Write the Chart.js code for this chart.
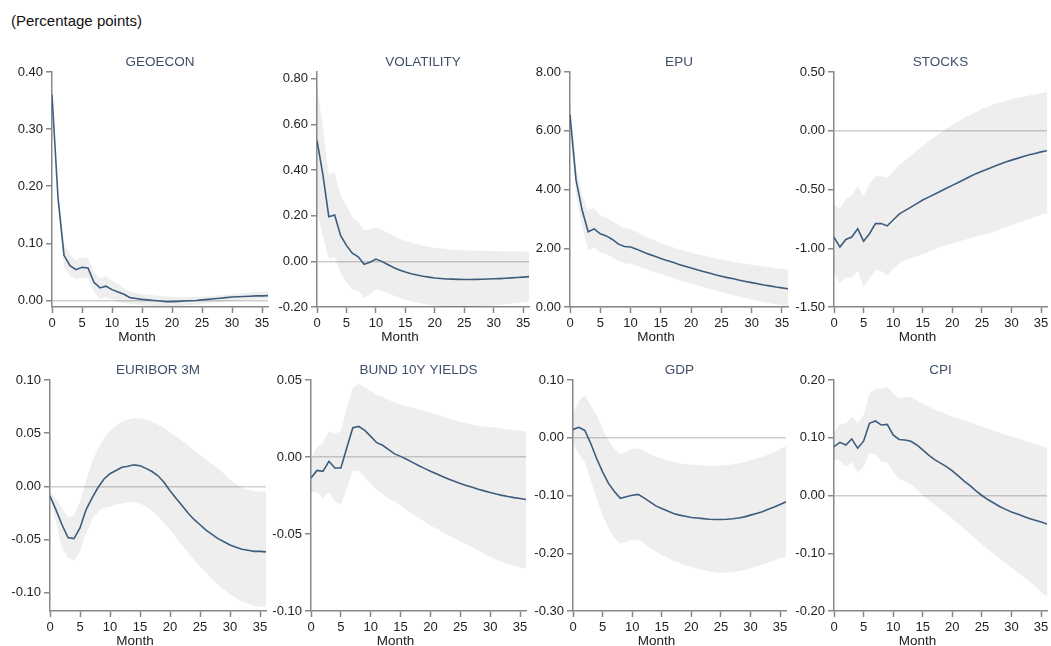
<!DOCTYPE html>
<html>
<head>
<meta charset="utf-8">
<script src="https://cdn.jsdelivr.net/npm/chart.js@4.4.1/dist/chart.umd.min.js"></script>
<style>
  body { margin: 0; background: #fff; width: 1051px; height: 646px; overflow: hidden; position: relative;
         font-family: "Liberation Sans", Arial, sans-serif; }
  #unit { position: absolute; left: 11px; top: 12px; font-size: 15px; color: #111; }
  canvas { position: absolute; }
</style>
</head>
<body>
<div id="unit">(Percentage points)</div>
<canvas id="p0"></canvas><canvas id="p1"></canvas><canvas id="p2"></canvas><canvas id="p3"></canvas>
<canvas id="p4"></canvas><canvas id="p5"></canvas><canvas id="p6"></canvas><canvas id="p7"></canvas>
<script>
// Horizon (months) and x tick labels
const months = [0,1,2,3,4,5,6,7,8,9,10,11,12,13,14,15,16,17,18,19,20,21,22,23,24,25,26,27,28,29,30,31,32,33,34,35,36];
const monthTicks = [0, 5, 10, 15, 20, 25, 30, 35];

// GEOECON
const geoMean  = [0.36,0.18,0.079,0.061,0.054,0.058,0.057,0.032,0.022,0.025,0.019,0.015,0.011,0.005,0.0035,0.002,0.001,0.0,-0.001,-0.002,-0.002,-0.0015,-0.001,-0.0005,0.0,0.001,0.002,0.003,0.004,0.005,0.006,0.0065,0.007,0.0075,0.008,0.008,0.0085];
const geoHigh  = [0.365,0.19,0.10,0.08,0.07,0.076,0.074,0.05,0.038,0.042,0.035,0.028,0.022,0.016,0.013,0.011,0.01,0.009,0.008,0.007,0.0065,0.006,0.006,0.006,0.0065,0.007,0.0075,0.008,0.009,0.01,0.011,0.012,0.013,0.014,0.015,0.0155,0.016];
const geoLow   = [0.355,0.17,0.058,0.043,0.037,0.04,0.04,0.014,0.003,0.006,0.002,-0.002,-0.004,-0.006,-0.007,-0.008,-0.009,-0.0095,-0.01,-0.01,-0.01,-0.0095,-0.009,-0.008,-0.007,-0.006,-0.005,-0.004,-0.003,-0.002,-0.001,0.0,0.0005,0.001,0.0015,0.002,0.002];
const geoTicks = [0, 0.1, 0.2, 0.3, 0.4];

// VOLATILITY
const volMean  = [0.53,0.38,0.196,0.203,0.114,0.07,0.036,0.02,-0.013,-0.004,0.01,0.0,-0.014,-0.027,-0.038,-0.047,-0.054,-0.06,-0.065,-0.069,-0.073,-0.075,-0.077,-0.078,-0.079,-0.0795,-0.0795,-0.079,-0.0785,-0.0775,-0.0765,-0.0755,-0.074,-0.0725,-0.071,-0.069,-0.067];
const volHigh  = [0.77,0.59,0.38,0.39,0.29,0.245,0.195,0.173,0.136,0.14,0.15,0.14,0.125,0.112,0.1,0.09,0.082,0.075,0.069,0.064,0.06,0.057,0.054,0.052,0.05,0.049,0.048,0.047,0.046,0.045,0.045,0.044,0.044,0.044,0.043,0.043,0.043];
const volLow   = [0.21,0.11,0.01,0.018,-0.05,-0.093,-0.123,-0.13,-0.16,-0.145,-0.123,-0.13,-0.14,-0.15,-0.16,-0.168,-0.175,-0.181,-0.186,-0.19,-0.194,-0.197,-0.199,-0.2,-0.2,-0.2,-0.2,-0.199,-0.198,-0.196,-0.194,-0.191,-0.188,-0.185,-0.182,-0.179,-0.176];
const volTicks = [-0.2, 0, 0.2, 0.4, 0.6, 0.8];

// EPU
const epuMean  = [6.54,4.32,3.3,2.56,2.66,2.49,2.42,2.3,2.14,2.06,2.04,1.97,1.88,1.8,1.73,1.65,1.58,1.52,1.45,1.39,1.33,1.27,1.21,1.16,1.1,1.05,1.0,0.96,0.91,0.87,0.83,0.79,0.75,0.72,0.68,0.65,0.62];
const epuHigh  = [7.0,4.8,3.8,3.3,3.36,3.12,3.05,2.93,2.78,2.7,2.65,2.56,2.45,2.36,2.27,2.18,2.1,2.03,1.97,1.91,1.85,1.8,1.75,1.7,1.66,1.62,1.58,1.54,1.5,1.47,1.44,1.41,1.38,1.35,1.32,1.29,1.26];
const epuLow   = [6.1,3.8,2.75,1.92,2.02,1.86,1.8,1.7,1.56,1.49,1.47,1.41,1.33,1.25,1.18,1.12,1.05,0.98,0.92,0.86,0.8,0.74,0.68,0.62,0.56,0.5,0.45,0.4,0.35,0.3,0.25,0.21,0.17,0.13,0.09,0.06,0.03];
const epuTicks = [0, 2, 4, 6, 8];

// STOCKS
const stkMean  = [-0.905,-0.99,-0.925,-0.905,-0.834,-0.94,-0.876,-0.79,-0.79,-0.81,-0.76,-0.71,-0.68,-0.65,-0.62,-0.59,-0.565,-0.54,-0.515,-0.49,-0.465,-0.44,-0.415,-0.39,-0.365,-0.345,-0.325,-0.305,-0.285,-0.265,-0.25,-0.235,-0.22,-0.205,-0.193,-0.18,-0.17];
const stkHigh  = [-0.63,-0.66,-0.58,-0.55,-0.47,-0.555,-0.45,-0.39,-0.387,-0.4,-0.35,-0.29,-0.25,-0.21,-0.17,-0.13,-0.09,-0.05,-0.015,0.02,0.05,0.08,0.11,0.135,0.16,0.185,0.205,0.225,0.24,0.255,0.27,0.28,0.29,0.3,0.31,0.32,0.33];
const stkLow   = [-1.22,-1.3,-1.25,-1.25,-1.19,-1.33,-1.26,-1.19,-1.195,-1.23,-1.175,-1.13,-1.1,-1.085,-1.07,-1.05,-1.03,-1.01,-0.99,-0.975,-0.96,-0.945,-0.93,-0.915,-0.9,-0.89,-0.875,-0.86,-0.84,-0.82,-0.805,-0.79,-0.77,-0.75,-0.735,-0.717,-0.7];
const stkTicks = [-1.5, -1, -0.5, 0, 0.5];

// EURIBOR 3M
const eurMean  = [-0.009,-0.022,-0.036,-0.048,-0.049,-0.039,-0.022,-0.011,-0.001,0.007,0.012,0.015,0.018,0.019,0.0203,0.0195,0.017,0.014,0.01,0.004,-0.004,-0.011,-0.018,-0.025,-0.031,-0.036,-0.041,-0.045,-0.049,-0.052,-0.055,-0.057,-0.059,-0.06,-0.061,-0.061,-0.0615];
const eurHigh  = [-0.005,-0.011,-0.02,-0.029,-0.027,-0.014,0.005,0.023,0.036,0.045,0.052,0.057,0.061,0.063,0.064,0.064,0.063,0.061,0.058,0.055,0.051,0.047,0.043,0.039,0.034,0.03,0.025,0.021,0.017,0.012,0.006,0.002,-0.001,-0.003,-0.004,-0.005,-0.005];
const eurLow   = [-0.011,-0.033,-0.058,-0.067,-0.07,-0.061,-0.044,-0.031,-0.024,-0.02,-0.019,-0.017,-0.016,-0.015,-0.015,-0.016,-0.019,-0.023,-0.028,-0.034,-0.041,-0.048,-0.055,-0.062,-0.069,-0.075,-0.081,-0.087,-0.092,-0.097,-0.101,-0.105,-0.108,-0.11,-0.112,-0.113,-0.113];
const eurTicks = [-0.1, -0.05, 0, 0.05, 0.1];

// BUND 10Y YIELDS
const bndMean  = [-0.0136,-0.0087,-0.0093,-0.0028,-0.0071,-0.0071,0.006,0.019,0.0199,0.0173,0.0134,0.0093,0.0076,0.0048,0.002,0.0004,-0.0015,-0.0035,-0.0055,-0.0074,-0.0092,-0.0109,-0.0126,-0.0143,-0.0158,-0.0172,-0.0185,-0.0197,-0.0209,-0.022,-0.023,-0.024,-0.0249,-0.0257,-0.0264,-0.027,-0.0276];
const bndHigh  = [-0.001,0.0065,0.0093,0.017,0.015,0.0167,0.032,0.045,0.0476,0.045,0.043,0.0405,0.039,0.037,0.0355,0.034,0.033,0.032,0.031,0.0298,0.0288,0.0276,0.0264,0.0252,0.024,0.0228,0.0219,0.021,0.0203,0.0198,0.0194,0.019,0.0185,0.018,0.0175,0.017,0.0167];
const bndLow   = [-0.0227,-0.0227,-0.027,-0.0227,-0.029,-0.031,-0.0206,-0.0087,-0.0093,-0.013,-0.0173,-0.0216,-0.024,-0.027,-0.029,-0.0314,-0.0342,-0.037,-0.0395,-0.042,-0.0444,-0.0466,-0.0487,-0.0508,-0.0528,-0.0548,-0.0568,-0.0588,-0.0608,-0.0628,-0.065,-0.0665,-0.068,-0.0695,-0.0707,-0.0717,-0.0725];
const bndTicks = [-0.1, -0.05, 0, 0.05];

// GDP
const gdpMean  = [0.0144,0.018,0.0127,-0.01,-0.036,-0.059,-0.079,-0.093,-0.105,-0.102,-0.0996,-0.098,-0.104,-0.111,-0.118,-0.1226,-0.127,-0.131,-0.134,-0.136,-0.138,-0.139,-0.14,-0.141,-0.1415,-0.1416,-0.1412,-0.1403,-0.139,-0.137,-0.134,-0.131,-0.128,-0.124,-0.12,-0.1155,-0.111];
const gdpHigh  = [0.041,0.064,0.073,0.056,0.039,0.0155,-0.0046,-0.019,-0.029,-0.025,-0.019,-0.018,-0.022,-0.028,-0.033,-0.036,-0.039,-0.0415,-0.044,-0.0455,-0.0466,-0.0474,-0.048,-0.0483,-0.0484,-0.0478,-0.047,-0.0458,-0.044,-0.0418,-0.039,-0.036,-0.0328,-0.029,-0.025,-0.02,-0.0144];
const gdpLow   = [-0.0104,-0.0276,-0.042,-0.074,-0.105,-0.134,-0.157,-0.174,-0.183,-0.18,-0.177,-0.176,-0.183,-0.19,-0.197,-0.203,-0.208,-0.213,-0.217,-0.221,-0.224,-0.227,-0.229,-0.231,-0.233,-0.234,-0.2335,-0.2325,-0.231,-0.229,-0.226,-0.223,-0.22,-0.216,-0.213,-0.209,-0.206];
const gdpTicks = [-0.3, -0.2, -0.1, 0, 0.1];

// CPI
const cpiMean  = [0.0846,0.092,0.0875,0.098,0.082,0.094,0.125,0.129,0.122,0.123,0.105,0.097,0.096,0.094,0.0875,0.079,0.07,0.062,0.056,0.05,0.0425,0.034,0.025,0.017,0.008,0.0,-0.007,-0.013,-0.019,-0.024,-0.0285,-0.032,-0.036,-0.04,-0.043,-0.046,-0.0495];
const cpiHigh  = [0.109,0.124,0.125,0.1375,0.125,0.139,0.177,0.185,0.185,0.188,0.177,0.169,0.17,0.171,0.165,0.159,0.154,0.149,0.145,0.141,0.137,0.134,0.13,0.127,0.123,0.119,0.116,0.112,0.109,0.105,0.102,0.099,0.096,0.092,0.089,0.086,0.082];
const cpiLow   = [0.0616,0.06,0.05,0.0576,0.04,0.05,0.073,0.071,0.0587,0.0576,0.041,0.0288,0.024,0.0196,0.01,0.0,-0.008,-0.016,-0.024,-0.032,-0.04,-0.049,-0.058,-0.067,-0.076,-0.085,-0.093,-0.101,-0.109,-0.117,-0.125,-0.133,-0.141,-0.149,-0.158,-0.167,-0.176];
const cpiTicks = [-0.2, -0.1, 0, 0.1, 0.2];

// Page layout of the 8 panels (plot area edges, in page pixels)
const Y_AXIS_W = 50, TOP_PAD = 35, X_AXIS_H = 42, RIGHT_PAD = 12;
const FONT = '"Liberation Sans", Arial, sans-serif';

// Titles above the plot and the "Month" caption under the axis
const panelText = {
  id: 'panelText',
  afterDraw(chart, args, opts) {
    const { ctx, chartArea: a } = chart;
    ctx.save();
    ctx.textAlign = 'center';
    ctx.textBaseline = 'middle';
    ctx.fillStyle = '#3f4f69';
    ctx.font = '13.5px ' + FONT;
    ctx.fillText(opts.title, (a.left + a.right) / 2, a.top - 10);
    ctx.fillStyle = '#222';
    ctx.font = '13.5px ' + FONT;
    ctx.fillText('Month', (a.left + a.right) / 2 - 23, a.bottom + 30);
    ctx.restore();
  }
};

// One impulse-response panel: band (high/low) + mean line
function irfPanel(id, box, title, mean, high, low, yMin, yMax, yTicks) {
  const cv = document.getElementById(id);
  const left = box.ax - Y_AXIS_W;
  cv.style.left = left + 'px';
  cv.style.top = (box.top - TOP_PAD) + 'px';
  cv.width = box.ar - box.ax + Y_AXIS_W + RIGHT_PAD;
  cv.height = box.bottom - box.top + TOP_PAD + X_AXIS_H;

  new Chart(cv.getContext('2d'), {
    type: 'line',
    data: {
      labels: months,
      datasets: [
        { data: high, fill: '+1', backgroundColor: 'rgba(0,0,0,0.065)', borderWidth: 0, pointRadius: 0 },
        { data: low, fill: false, borderWidth: 0, pointRadius: 0 },
        { data: mean, fill: false, borderColor: '#426386', borderWidth: 1.6, pointRadius: 0, tension: 0 }
      ]
    },
    options: {
      responsive: false,
      animation: false,
      devicePixelRatio: 1,
      layout: { padding: { top: TOP_PAD, right: RIGHT_PAD, left: 0, bottom: 0 } },
      plugins: { legend: { display: false }, tooltip: { enabled: false }, panelText: { title: title } },
      scales: {
        x: {
          type: 'linear', min: 0, max: 36,
          afterBuildTicks: s => { s.ticks = monthTicks.map(v => ({ value: v })); },
          afterFit: s => { s.height = X_AXIS_H; },
          grid: { drawOnChartArea: false, tickLength: 6, tickColor: '#888', tickWidth: 1.5 },
          border: { color: '#888', width: 1.5 },
          ticks: { color: '#222', font: { size: 13, family: FONT }, padding: 3, maxRotation: 0, autoSkip: false }
        },
        y: {
          min: yMin, max: yMax,
          afterBuildTicks: s => { s.ticks = yTicks.map(v => ({ value: v })); },
          afterFit: s => { s.width = Y_AXIS_W; },
          grid: {
            color: c => (c.tick && c.tick.value === 0 ? '#cfcfcf' : 'rgba(0,0,0,0)'),
            lineWidth: 1.5, tickLength: 6, tickColor: '#888', tickWidth: 1.5
          },
          border: { color: '#888', width: 1.5 },
          ticks: { color: '#222', font: { size: 13, family: FONT }, padding: 3, callback: v => v.toFixed(2) }
        }
      }
    },
    plugins: [panelText]
  });
}

const row1 = { top: 72, bottom: 307 };
const row2 = { top: 380, bottom: 611 };

irfPanel('p0', { ax: 52,  ar: 268,  ...row1 }, 'GEOECON',         geoMean, geoHigh, geoLow, -0.0114, 0.40, geoTicks);
irfPanel('p1', { ax: 317, ar: 529,  ...row1 }, 'VOLATILITY',      volMean, volHigh, volLow, -0.20, 0.83, volTicks);
irfPanel('p2', { ax: 570, ar: 788,  ...row1 }, 'EPU',             epuMean, epuHigh, epuLow, 0, 8, epuTicks);
irfPanel('p3', { ax: 834, ar: 1047, ...row1 }, 'STOCKS',          stkMean, stkHigh, stkLow, -1.5, 0.5, stkTicks);
irfPanel('p4', { ax: 50,  ar: 266,  ...row2 }, 'EURIBOR 3M',      eurMean, eurHigh, eurLow, -0.117, 0.10, eurTicks);
irfPanel('p5', { ax: 311, ar: 526,  ...row2 }, 'BUND 10Y YIELDS', bndMean, bndHigh, bndLow, -0.10, 0.05, bndTicks);
irfPanel('p6', { ax: 573, ar: 786,  ...row2 }, 'GDP',             gdpMean, gdpHigh, gdpLow, -0.30, 0.10, gdpTicks);
irfPanel('p7', { ax: 834, ar: 1047, ...row2 }, 'CPI',             cpiMean, cpiHigh, cpiLow, -0.20, 0.20, cpiTicks);
</script>
</body>
</html>
